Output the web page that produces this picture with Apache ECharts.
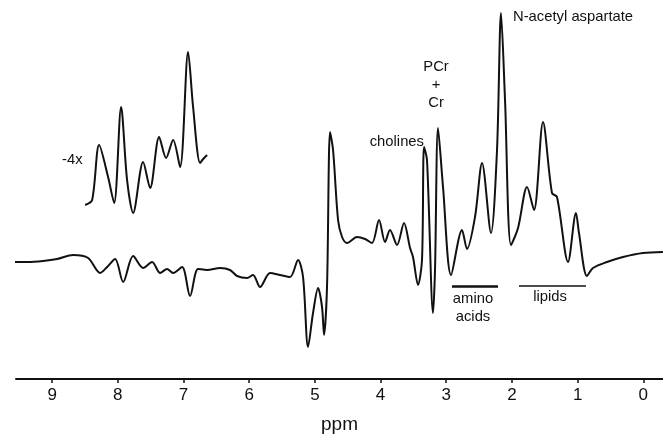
<!DOCTYPE html>
<html>
<head>
<meta charset="utf-8">
<script src="https://cdn.jsdelivr.net/npm/echarts@6/dist/echarts.min.js"></script>
<style>html,body{margin:0;padding:0;background:#fff}#c{width:663px;height:435px}</style>
</head>
<body>
<div id="c"></div>
<script>
// chemical shift (ppm) and intensity (arbitrary units, baseline = 0)
const specPpm = [9.624,9.381,9.137,8.924,8.680,8.452,8.269,8.163,8.041,7.919,7.767,7.615,7.478,7.356,7.250,7.158,7.021,6.900,6.778,6.641,6.443,6.291,6.184,6.032,5.941,5.834,5.682,5.530,5.378,5.256,5.180,5.104,5.028,4.951,4.891,4.860,4.815,4.769,4.723,4.647,4.586,4.510,4.358,4.236,4.130,4.023,3.932,3.856,3.749,3.643,3.551,3.506,3.430,3.369,3.338,3.293,3.201,3.171,3.125,3.049,2.927,2.760,2.684,2.562,2.455,2.319,2.227,2.166,2.105,2.014,1.907,1.770,1.664,1.527,1.390,1.314,1.146,1.025,0.979,0.857,0.766,0.553,0.309,0.005,-0.299];
const specVal = [0,0,1,3,7,4,-11,-5,3,-20,6,-6,0,-11,-7,-11,-5,-34,-7,-8,-6,-8,-14,-16,-13,-25,-11,-13,-15,2,-15,-85,-51,-26,-45,-73,-25,130,112,42,25,19,25,23,19,42,20,32,17,39,14,5,-23,2,115,102,-51,-8,134,75,-13,32,13,45,99,29,112,249,162,17,34,75,52,140,69,65,0,49,29,-14,-6,0,5,9,10];
// -4x inset (offset trace)
const insetPpm = [8.498,8.391,8.285,8.148,8.056,7.950,7.859,7.767,7.615,7.508,7.371,7.265,7.158,7.052,6.930,6.854,6.747,6.700,6.641];
const insetVal = [57,62,117,85,59,155,82,49,100,74,125,104,122,95,210,155,99,103,107];
const tickValues = [0,1,2,3,4,5,6,7,8,9];
const axisName = 'ppm';

const chart = echarts.init(document.getElementById('c'));
const FONT = '"Liberation Sans", Arial, sans-serif';
const txt = (x, y, text, align, extra) => Object.assign({
  type: 'text', x: x, y: y,
  style: { text: text, fill: '#111', font: '14.8px ' + FONT, align: align || 'left', verticalAlign: 'middle', lineHeight: 18 }
}, extra || {});

chart.setOption({
  animation: false,
  backgroundColor: '#fff',
  grid: { left: 16, right: 0, top: 0, bottom: 56, outerBoundsMode: 'none', containLabel: false },
  xAxis: {
    type: 'value', inverse: true, min: -0.3, max: 9.55,
    name: axisName, nameLocation: 'middle', nameGap: 36,
    nameTextStyle: { fontFamily: FONT, fontSize: 19, color: '#111' },
    axisLine: { onZero: false, lineStyle: { color: '#111', width: 2 } },
    axisTick: { show: true, customValues: tickValues, length: 4, lineStyle: { color: '#111', width: 1.5 } },
    axisLabel: { customValues: tickValues, fontFamily: FONT, fontSize: 17, color: '#111', margin: 8 },
    splitLine: { show: false }
  },
  yAxis: { type: 'value', min: -117, max: 262, show: false },
  series: [
    {
      type: 'line', data: specPpm.map((p, i) => [p, specVal[i]]),
      smooth: 0.3, symbol: 'none', clip: false,
      lineStyle: { color: '#111', width: 2 },
      markLine: {
        silent: true, symbol: 'none', label: { show: false },
        lineStyle: { color: '#111', type: 'solid' },
        data: [
          [{ coord: [2.912, -24], lineStyle: { width: 2.5 } }, { coord: [2.212, -24] }],
          [{ coord: [1.892, -24], lineStyle: { width: 1.5 } }, { coord: [0.873, -24] }]
        ]
      }
    },
    {
      type: 'line', data: insetPpm.map((p, i) => [p, insetVal[i]]),
      smooth: 0.3, symbol: 'none',
      lineStyle: { color: '#111', width: 2 }
    }
  ],
  graphic: [
    txt(513, 17, 'N-acetyl aspartate'),
    txt(436, 85, 'PCr\n+\nCr', 'center'),
    txt(424, 142, 'cholines', 'right'),
    txt(62, 160, '-4x'),
    txt(473, 308, 'amino\nacids', 'center'),
    txt(550, 297, 'lipids', 'center')
  ]
});
</script>
</body>
</html>
